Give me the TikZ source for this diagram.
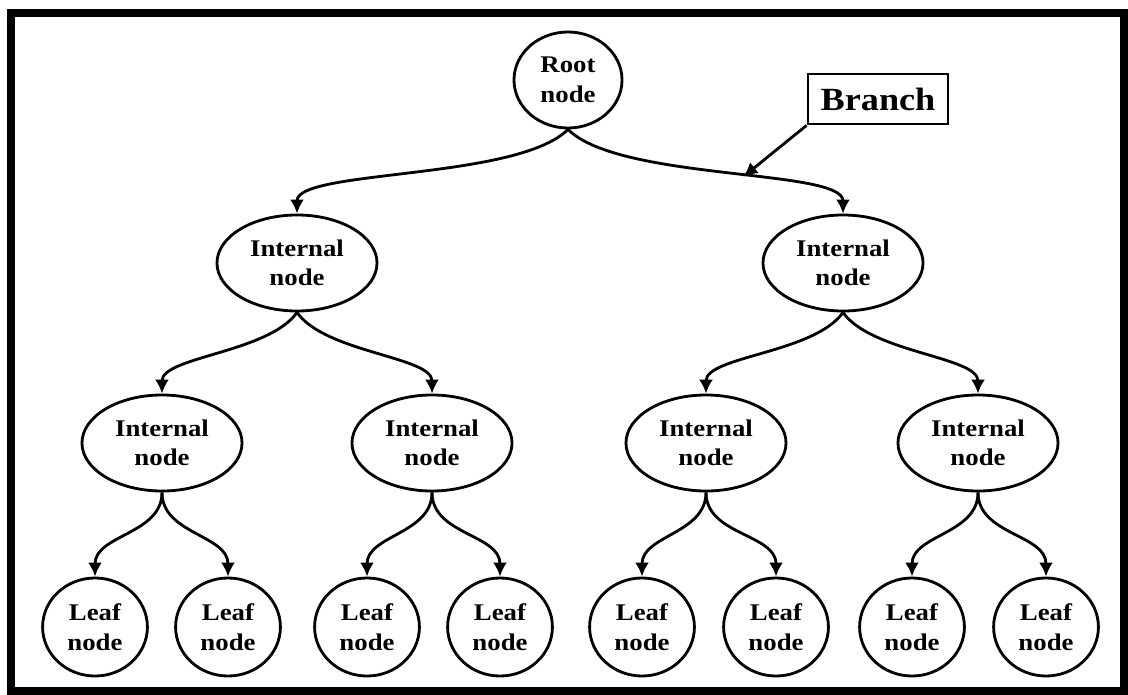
\documentclass[tikz,border=0pt]{standalone}
\usepackage{fontspec}
\setmainfont[FakeStretch=1.12]{Liberation Serif}
\usetikzlibrary{shapes.geometric,arrows.meta}
\tikzset{
  tnode/.style={ellipse,draw,line width=2pt,inner sep=0pt,align=center,
    font=\fontsize{17}{21}\selectfont\bfseries},
  rootnode/.style={tnode,minimum width=2.7cm,minimum height=2.4cm},
  innode/.style={tnode,minimum width=4cm,minimum height=2.4cm},
  leafnode/.style={tnode,minimum width=2.62cm,minimum height=2.45cm},
  branch/.style={line width=2pt,-{Latex[length=10pt,width=10pt]},out=-90,in=90},
  toleft/.style={branch,out=-125,out looseness=0.8,in looseness=0.6},
  toright/.style={branch,out=-55,out looseness=0.8,in looseness=0.6}
}
\begin{document}
\begin{tikzpicture}[x=0.025cm,y=-0.025cm]
  \useasboundingbox (0,0) rectangle (1128,695);
  \draw[line width=5.5pt] (11,13) rectangle (1124,691);
  \node[rootnode] (root) at (568,80) {Root\\node};
  \node[innode] (i1) at (297,263) {Internal\\node};
  \node[innode] (i2) at (843,263) {Internal\\node};
  \node[innode] (i11) at (162,443) {Internal\\node};
  \node[innode] (i12) at (432,443) {Internal\\node};
  \node[innode] (i21) at (706,443) {Internal\\node};
  \node[innode] (i22) at (978,443) {Internal\\node};
  \foreach \x [count=\i] in {95,228,367,500,642,776,912,1046}
    \node[leafnode] (l\i) at (\x,627) {Leaf\\node};
  \node[draw,line width=2pt,minimum width=3.5cm,minimum height=1.25cm,
    font=\fontsize{23}{25}\selectfont\bfseries] (lbl) at (878,99) {Branch};
  \draw[branch,out=-135,out looseness=0.65,in looseness=0.4] (root.south) to (i1.north);
  \draw[branch,out=-45,out looseness=0.65,in looseness=0.4] (root.south)
    to coordinate[pos=0.55] (br) (i2.north);
  \draw[toleft] (i1.south) to (i11.north);
  \draw[toright] (i1.south) to (i12.north);
  \draw[toleft] (i2.south) to (i21.north);
  \draw[toright] (i2.south) to (i22.north);
  \draw[branch] (i11.south) to (l1.north);
  \draw[branch] (i11.south) to (l2.north);
  \draw[branch] (i12.south) to (l3.north);
  \draw[branch] (i12.south) to (l4.north);
  \draw[branch] (i21.south) to (l5.north);
  \draw[branch] (i21.south) to (l6.north);
  \draw[branch] (i22.south) to (l7.north);
  \draw[branch] (i22.south) to (l8.north);
  \draw[line width=2pt,-{Latex[length=10pt,width=10pt]}] (lbl.south west) -- (br);
\end{tikzpicture}
\end{document}
